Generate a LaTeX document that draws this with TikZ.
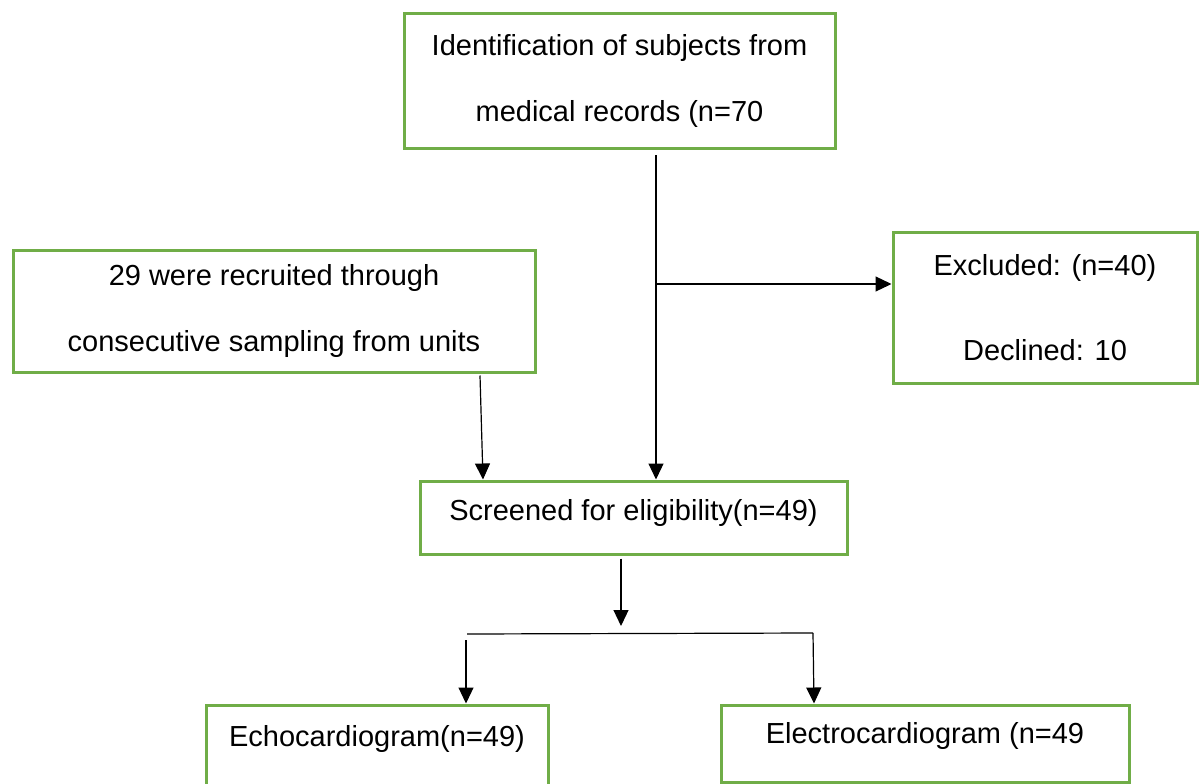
\documentclass[tikz,border=0pt]{standalone}
\usepackage{fontspec}
\setmainfont{Liberation Sans}
\usetikzlibrary{positioning,arrows.meta}
\definecolor{boxgreen}{RGB}{112,173,71}

\begin{document}
\begin{tikzpicture}[x=1pt,y=-1pt,
        font=\fontsize{29}{66}\selectfont,
        flowbox/.style={draw=boxgreen, line width=3pt, align=center, inner sep=0pt},
        flow/.style={line width=1.2pt, -{Triangle[length=16pt,width=15pt]}},
        plain/.style={line width=1.2pt}]
        \useasboundingbox (0,0) rectangle (1199,784);
        % boxes
        \node[flowbox, minimum width=431, minimum height=134] (ident) at (619.5,81)
            {Identification of subjects from\\medical records (n=70};
        \node[flowbox, minimum width=522, minimum height=122] (recruit) at (274,311)
            {29 were recruited through\\consecutive sampling from units};
        \node[flowbox, minimum width=304, minimum height=151] (excl) at (1045,307.5)
            {Excluded: (n=40)\\[19pt]Declined: 10};
        \node[flowbox, minimum width=427, minimum height=73, text height=21pt, text depth=15pt] (screen) at (633.5,517.5)
            {Screened for eligibility(n=49)};
        \node[flowbox, minimum width=342, minimum height=100, text height=21pt, text depth=38pt] (echo) at (377,755)
            {Echocardiogram(n=49)};
        \node[flowbox, minimum width=408, minimum height=77, text height=21pt, text depth=21pt] (ecg) at (925,743.5)
            {Electrocardiogram (n=49};
        % connectors
        \coordinate (trunk) at (656,155);
        \coordinate (branch) at (656,284);
        \draw[flow] (trunk) -- (trunk |- screen.north);
        \draw[flow] (branch) -- (branch -| excl.west);
        \draw[flow] ([xshift=206pt,yshift=-2pt]recruit.south) -- ([xshift=-150.5pt]screen.north);
        \coordinate (hub) at (621,626);
        \draw[flow] ([xshift=-12.5pt,yshift=-3pt]screen.south) -- (hub);
        \coordinate (splitL) at (467,634);
        \coordinate (splitR) at (813,633);
        \coordinate (dropL) at (466,640);
        \draw[plain] (splitL) -- (splitR);
        \draw[flow] (dropL) -- ([xshift=89pt]echo.north);
        \draw[flow] (splitR) -- ([xshift=-111pt]ecg.north);
\end{tikzpicture}
\end{document}
